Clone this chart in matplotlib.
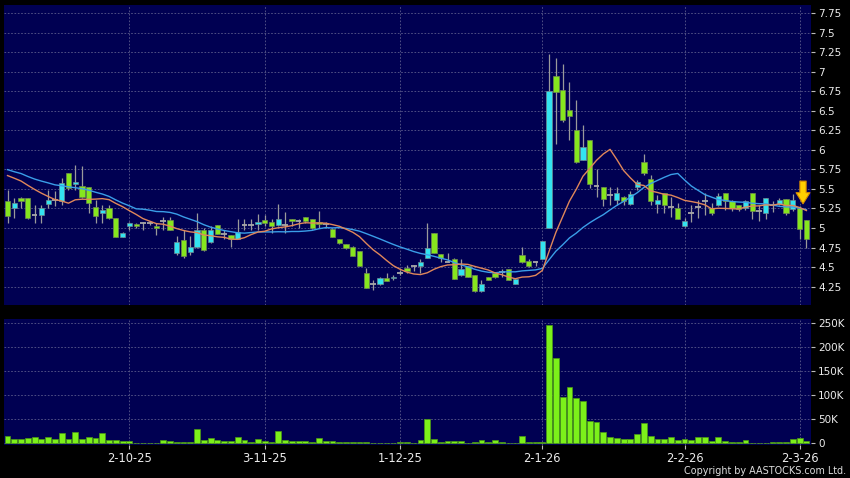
import numpy as np
import pandas as pd
import matplotlib
matplotlib.use('Agg')
import matplotlib.pyplot as plt
from matplotlib.ticker import FuncFormatter

# daily OHLC (index 0 = first candle)
opens = [5.35, 5.26, 5.38, 5.38, 5.17, 5.17, 5.31, 5.36, 5.34, 5.70,
         5.56, 5.54, 5.52, 5.27, 5.19, 5.26, 5.13, 4.88, 5.03, 5.05,
         5.06, 5.07, 5.03, 5.09, 5.10, 4.68, 4.85, 4.70, 4.76, 4.97,
         4.82, 5.04, 4.93, 4.91, 4.86, 5.04, 5.04, 5.05, 5.10, 5.08,
         5.04, 5.04, 5.12, 5.09, 5.14, 5.12, 5.08, 5.05, 4.99, 4.86,
         4.80, 4.76, 4.71, 4.42, 4.28, 4.28, 4.36, 4.36, 4.43, 4.49,
         4.52, 4.51, 4.62, 4.94, 4.67, 4.57, 4.60, 4.40, 4.52, 4.40,
         4.20, 4.37, 4.43, 4.44, 4.48, 4.29, 4.65, 4.58, 4.56, 4.61,
         5.00, 6.94, 6.77, 6.51, 6.25, 5.87, 6.13, 5.54, 5.53, 5.42,
         5.36, 5.40, 5.31, 5.53, 5.84, 5.63, 5.31, 5.45, 5.27, 5.25,
         5.02, 5.19, 5.27, 5.34, 5.25, 5.30, 5.45, 5.34, 5.30, 5.26,
         5.45, 5.22, 5.19, 5.30, 5.31, 5.37, 5.24, 5.26, 5.10]
highs = [5.49, 5.38, 5.40, 5.38, 5.30, 5.30, 5.49, 5.47, 5.64, 5.70,
         5.81, 5.79, 5.52, 5.36, 5.30, 5.29, 5.13, 4.95, 5.08, 5.07,
         5.08, 5.09, 5.06, 5.14, 5.14, 4.90, 4.98, 4.90, 5.19, 5.00,
         5.02, 5.04, 4.98, 4.91, 5.11, 5.11, 5.11, 5.18, 5.17, 5.11,
         5.31, 5.21, 5.12, 5.12, 5.14, 5.12, 5.22, 5.08, 5.00, 4.86,
         4.80, 4.77, 4.71, 4.49, 4.33, 4.37, 4.42, 4.40, 4.46, 4.53,
         4.53, 4.60, 5.07, 4.94, 4.67, 4.68, 4.62, 4.60, 4.52, 4.40,
         4.33, 4.37, 4.43, 4.47, 4.48, 4.36, 4.76, 4.60, 4.58, 4.83,
         7.22, 7.17, 7.10, 6.87, 6.64, 6.32, 6.13, 5.76, 5.53, 5.53,
         5.53, 5.41, 5.48, 5.62, 5.95, 5.68, 5.42, 5.45, 5.40, 5.32,
         5.13, 5.30, 5.36, 5.45, 5.32, 5.45, 5.45, 5.36, 5.30, 5.36,
         5.45, 5.30, 5.39, 5.34, 5.38, 5.37, 5.43, 5.28, 5.10]
lows = [5.07, 5.13, 5.26, 5.12, 5.06, 5.06, 5.26, 5.28, 5.30, 5.49,
        5.49, 5.38, 5.19, 5.07, 5.06, 5.12, 4.88, 4.88, 4.98, 5.00,
        4.98, 5.04, 4.91, 4.98, 4.98, 4.66, 4.62, 4.66, 4.75, 4.71,
        4.81, 4.92, 4.86, 4.76, 4.86, 4.98, 4.98, 4.98, 5.02, 4.94,
        5.02, 4.94, 5.02, 5.00, 5.06, 4.99, 5.00, 5.00, 4.88, 4.80,
        4.73, 4.64, 4.51, 4.23, 4.21, 4.27, 4.32, 4.33, 4.40, 4.43,
        4.45, 4.42, 4.62, 4.68, 4.57, 4.56, 4.35, 4.39, 4.37, 4.18,
        4.18, 4.33, 4.36, 4.38, 4.33, 4.28, 4.55, 4.50, 4.51, 4.60,
        5.00, 6.08, 6.36, 6.12, 5.83, 5.87, 5.51, 5.40, 5.28, 5.30,
        5.30, 5.29, 5.30, 5.49, 5.68, 5.30, 5.19, 5.19, 5.14, 5.11,
        5.01, 5.08, 5.13, 5.17, 5.17, 5.28, 5.23, 5.22, 5.22, 5.23,
        5.12, 5.09, 5.11, 5.21, 5.30, 5.17, 5.22, 4.86, 4.75]
closes = [5.16, 5.32, 5.34, 5.13, 5.17, 5.26, 5.36, 5.36, 5.57, 5.51,
          5.59, 5.40, 5.32, 5.16, 5.23, 5.13, 4.88, 4.94, 5.06, 5.03,
          5.06, 5.07, 5.00, 5.09, 4.98, 4.82, 4.64, 4.76, 4.97, 4.72,
          4.97, 4.93, 4.93, 4.86, 4.95, 5.04, 5.04, 5.08, 5.07, 5.02,
          5.12, 5.04, 5.09, 5.09, 5.09, 5.00, 5.05, 5.05, 4.89, 4.81,
          4.75, 4.64, 4.52, 4.23, 4.28, 4.36, 4.32, 4.38, 4.43, 4.45,
          4.52, 4.56, 4.75, 4.68, 4.62, 4.57, 4.35, 4.47, 4.38, 4.20,
          4.29, 4.33, 4.38, 4.44, 4.33, 4.35, 4.56, 4.51, 4.56, 4.83,
          6.75, 6.74, 6.38, 6.43, 5.84, 6.03, 5.56, 5.54, 5.37, 5.42,
          5.45, 5.34, 5.44, 5.59, 5.70, 5.34, 5.36, 5.30, 5.27, 5.11,
          5.09, 5.19, 5.27, 5.34, 5.19, 5.41, 5.34, 5.26, 5.24, 5.35,
          5.22, 5.22, 5.39, 5.30, 5.36, 5.19, 5.36, 4.99, 4.86]
# volume in thousands of shares
volume = [15.2, 8.3, 8.3, 10.3, 12.4, 9.7, 13.1, 9.7, 20.7, 9.0,
          22.8, 9.0, 12.4, 10.3, 22.0, 6.9, 6.9, 4.8, 4.8, 0,
          0, 0, 0, 6.9, 5.5, 2.8, 2.8, 3.4, 29.0, 6.2,
          11.0, 6.2, 4.8, 4.8, 13.1, 6.2, 2.8, 9.0, 4.1, 2.0,
          26.2, 7.6, 4.1, 4.1, 4.1, 2.8, 11.0, 4.8, 5.5, 2.0,
          2.0, 2.0, 2.0, 3.4, 1.4, 1.4, 0.7, 0.3, 2.0, 2.0,
          1.4, 7.0, 50.3, 9.0, 3.4, 4.1, 4.1, 4.8, 1.4, 2.8,
          6.9, 2.8, 7.6, 3.4, 1.4, 1.4, 14.5, 3.4, 2.0, 2.0,
          244.5, 176, 97, 116, 94, 88, 47, 44, 22.7, 13,
          11, 8.3, 9.6, 19.3, 42, 15.8, 9.6, 8.3, 13, 6.9,
          8.3, 6.9, 12.4, 13.8, 4.8, 13.8, 4.8, 3.4, 3.4, 6.9,
          0.7, 0.7, 0.7, 2.8, 3.4, 3.4, 8.3, 11, 5.5]
# closes before the first candle (estimated from where the MA lines start)
closes_before = [5.85, 5.80, 5.88, 5.83, 5.78, 5.82, 5.86, 5.80, 5.79, 5.81,
                 5.66, 5.70, 5.68, 5.69, 5.74, 5.78, 5.76, 5.75, 5.79]

tick_idx = [18, 38, 58, 79, 100, 117]
tick_labels = ['2-10-25', '3-11-25', '1-12-25', '2-1-26', '2-2-26', '2-3-26']

o = np.array(opens)
h = np.array(highs)
l = np.array(lows)
c = np.array(closes)
v = np.array(volume) * 1000
n = len(c)
x = np.arange(n)

allc = pd.Series(closes_before + closes)
ma10 = allc.rolling(10).mean().values[-n:]
ma20 = allc.rolling(20).mean().values[-n:]

bg = '#000052'
gridc = '#5c5c8c'
txtc = '#ececec'
up_col = '#33e3f0'
dn_col = '#86e61e'

fig = plt.figure(figsize=(8.5, 4.78), dpi=100, facecolor='black')
ax = fig.add_axes([4/850, 1-305/478, 807/850, 300/478])
ax2 = fig.add_axes([4/850, 1-444.5/478, 807/850, 126/478])

for a in (ax, ax2):
    a.set_facecolor(bg)
    for s in a.spines.values():
        s.set_visible(False)
    a.set_xlim(-0.52, 118.68)
    a.set_xticks(tick_idx)
    a.yaxis.tick_right()
    a.tick_params(axis='y', colors='#bbbbbb', labelcolor=txtc, labelsize=7.5,
                  length=3, pad=2)
    a.grid(True, color=gridc, lw=0.6, ls=(0, (2, 2)))
    a.set_axisbelow(True)

# price panel
up = c > o
dn = c < o
dj = c == o
ax.vlines(x, l, h, color='#9a9a9a', lw=0.9, zorder=2)
ax.bar(x[up], (c - o)[up], bottom=o[up], width=0.78, color=up_col,
       edgecolor='#6e8c90', lw=0.5, zorder=3)
ax.bar(x[dn], (o - c)[dn], bottom=c[dn], width=0.78, color=dn_col,
       edgecolor='#6e8a50', lw=0.5, zorder=3)
ax.hlines(c[dj], x[dj] - 0.42, x[dj] + 0.42, color='#a8a8a8', lw=1.3, zorder=3)
ax.plot(x, ma20, color='#3a9ee8', lw=1.0, zorder=4)
ax.plot(x, ma10, color='#e0875a', lw=1.0, zorder=4)

# signal arrow above the last candles
ax_x = n - 1.5
tip = h[-2] + 0.03
ax.annotate('', xy=(ax_x, tip), xytext=(ax_x, tip + 0.29),
            arrowprops=dict(arrowstyle='simple,head_length=0.8,head_width=1.0,tail_width=0.45',
                            fc='#ffd000', ec='#d88a00', lw=0.8,
                            shrinkA=0, shrinkB=0),
            zorder=6)

ax.set_ylim(4.016, 7.852)
ax.set_yticks(np.arange(4.25, 7.76, 0.25))
ax.yaxis.set_major_formatter(FuncFormatter(lambda val, p: '%g' % round(val, 2)))
ax.tick_params(axis='x', length=0, labelbottom=False)

# volume panel
ax2.bar(x, v, width=0.86, color='#7cf01a', edgecolor='#4c9a14', lw=0.5, zorder=3)
ax2.set_ylim(-2500, 259000)
ax2.set_yticks(np.arange(0, 250001, 50000))
ax2.yaxis.set_major_formatter(FuncFormatter(lambda val, p: '0' if val == 0 else '%dK' % (val / 1000)))
ax2.set_xticklabels(tick_labels)
ax2.tick_params(axis='x', colors='#bbbbbb', labelcolor=txtc, labelsize=8.3,
                length=3, pad=2.5)

fig.text(845.7/850, 1-471.5/478, 'Copyright by AASTOCKS.com Ltd.', color='#dddddd',
         fontsize=6.9, ha='right', va='center')

fig.savefig('out.png', dpi=100, facecolor='black')
